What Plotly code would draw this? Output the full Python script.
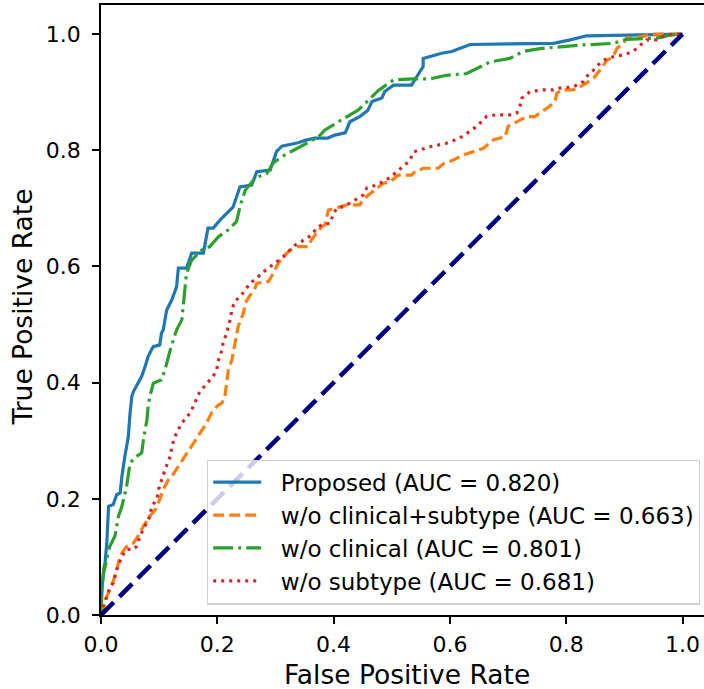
import plotly.graph_objects as go

# ROC curve points (false positive rate, true positive rate) for each model
proposed_fpr = [0.0, 0.002, 0.005, 0.007, 0.010, 0.013, 0.021, 0.027, 0.033, 0.036, 0.041, 0.047,
                0.050, 0.053, 0.056, 0.064, 0.070, 0.076, 0.081, 0.087, 0.090, 0.101, 0.104, 0.107,
                0.110, 0.113, 0.122, 0.130, 0.133, 0.147, 0.156, 0.176, 0.184, 0.193, 0.205, 0.227,
                0.239, 0.259, 0.268, 0.291, 0.302, 0.311, 0.339, 0.351, 0.368, 0.390, 0.402, 0.420,
                0.428, 0.445, 0.459, 0.466, 0.483, 0.488, 0.503, 0.534, 0.554, 0.554, 0.586, 0.603,
                0.635, 0.778, 0.807, 0.835, 1.0]
proposed_tpr = [0.0, 0.050, 0.080, 0.090, 0.124, 0.187, 0.190, 0.207, 0.210, 0.239, 0.273, 0.307,
                0.348, 0.376, 0.385, 0.399, 0.411, 0.428, 0.445, 0.457, 0.462, 0.465, 0.485, 0.491,
                0.508, 0.525, 0.543, 0.565, 0.597, 0.597, 0.623, 0.623, 0.666, 0.666, 0.680, 0.702,
                0.737, 0.740, 0.763, 0.766, 0.798, 0.807, 0.813, 0.817, 0.821, 0.821, 0.826, 0.830,
                0.849, 0.858, 0.869, 0.884, 0.890, 0.901, 0.912, 0.912, 0.944, 0.958, 0.967, 0.970,
                0.982, 0.984, 0.990, 0.997, 1.0]

no_clin_sub_fpr = [0.0, 0.004, 0.010, 0.018, 0.024, 0.030, 0.036, 0.044, 0.056, 0.064, 0.073, 0.084,
                   0.093, 0.101, 0.107, 0.116, 0.122, 0.133, 0.139, 0.147, 0.156, 0.162, 0.170, 0.182,
                   0.190, 0.199, 0.208, 0.213, 0.216, 0.219, 0.225, 0.228, 0.233, 0.236, 0.245, 0.248,
                   0.253, 0.265, 0.268, 0.288, 0.296, 0.305, 0.314, 0.325, 0.337, 0.356, 0.362, 0.374,
                   0.380, 0.385, 0.388, 0.391, 0.402, 0.423, 0.445, 0.451, 0.460, 0.471, 0.485, 0.497,
                   0.511, 0.534, 0.540, 0.554, 0.580, 0.589, 0.606, 0.623, 0.640, 0.657, 0.675, 0.695,
                   0.700, 0.709, 0.721, 0.732, 0.746, 0.761, 0.772, 0.781, 0.784, 0.792, 0.812, 0.829,
                   0.838, 0.847, 0.858, 0.870, 0.881, 0.887, 0.898, 0.904, 0.933, 0.944, 1.0]
no_clin_sub_tpr = [0.0, 0.009, 0.032, 0.050, 0.067, 0.090, 0.107, 0.118, 0.124, 0.136, 0.153, 0.170,
                   0.181, 0.199, 0.216, 0.233, 0.239, 0.256, 0.267, 0.279, 0.293, 0.302, 0.313, 0.331,
                   0.348, 0.359, 0.365, 0.376, 0.399, 0.422, 0.439, 0.456, 0.479, 0.497, 0.520, 0.537,
                   0.545, 0.563, 0.571, 0.574, 0.588, 0.606, 0.617, 0.628, 0.634, 0.634, 0.646, 0.660,
                   0.669, 0.671, 0.686, 0.697, 0.700, 0.706, 0.706, 0.715, 0.723, 0.732, 0.743, 0.746,
                   0.757, 0.757, 0.763, 0.769, 0.769, 0.777, 0.783, 0.792, 0.798, 0.803, 0.818, 0.823,
                   0.841, 0.846, 0.852, 0.858, 0.858, 0.869, 0.876, 0.886, 0.898, 0.904, 0.904, 0.912,
                   0.918, 0.924, 0.938, 0.955, 0.961, 0.975, 0.984, 0.993, 0.996, 1.0, 1.0]

no_clin_fpr = [0.0, 0.001, 0.004, 0.010, 0.015, 0.024, 0.030, 0.036, 0.044, 0.050, 0.061, 0.070,
               0.073, 0.079, 0.081, 0.084, 0.090, 0.104, 0.110, 0.119, 0.124, 0.130, 0.139, 0.142,
               0.144, 0.147, 0.156, 0.173, 0.187, 0.202, 0.219, 0.233, 0.239, 0.248, 0.265, 0.285,
               0.296, 0.311, 0.322, 0.342, 0.357, 0.374, 0.385, 0.414, 0.442, 0.460, 0.477, 0.503,
               0.537, 0.566, 0.594, 0.629, 0.646, 0.669, 0.703, 0.726, 0.755, 0.824, 0.881, 0.904,
               0.956, 0.978, 1.0]
no_clin_tpr = [0.0, 0.040, 0.070, 0.100, 0.118, 0.136, 0.170, 0.187, 0.221, 0.262, 0.273, 0.279,
               0.302, 0.336, 0.359, 0.376, 0.399, 0.405, 0.422, 0.456, 0.474, 0.491, 0.508, 0.537,
               0.565, 0.588, 0.611, 0.628, 0.634, 0.651, 0.663, 0.677, 0.703, 0.731, 0.752, 0.760,
               0.778, 0.789, 0.795, 0.806, 0.815, 0.823, 0.835, 0.852, 0.869, 0.886, 0.903, 0.921,
               0.923, 0.923, 0.929, 0.932, 0.941, 0.952, 0.958, 0.970, 0.975, 0.981, 0.984, 0.991,
               0.993, 0.998, 1.0]

no_sub_fpr = [0.0, 0.001, 0.010, 0.015, 0.021, 0.027, 0.036, 0.044, 0.056, 0.061, 0.067, 0.073,
              0.084, 0.087, 0.096, 0.099, 0.104, 0.110, 0.119, 0.122, 0.127, 0.133, 0.139, 0.144,
              0.153, 0.162, 0.165, 0.173, 0.182, 0.193, 0.199, 0.202, 0.208, 0.210, 0.216, 0.222,
              0.225, 0.230, 0.239, 0.248, 0.256, 0.268, 0.276, 0.288, 0.296, 0.305, 0.314, 0.325,
              0.334, 0.345, 0.354, 0.362, 0.371, 0.380, 0.394, 0.399, 0.405, 0.417, 0.428, 0.440,
              0.451, 0.457, 0.474, 0.497, 0.514, 0.531, 0.537, 0.566, 0.594, 0.617, 0.629, 0.646,
              0.663, 0.680, 0.703, 0.715, 0.721, 0.723, 0.738, 0.761, 0.778, 0.789, 0.812, 0.829,
              0.835, 0.847, 0.858, 0.870, 0.881, 0.898, 0.915, 0.927, 0.938, 0.956, 0.967, 0.984,
              1.0]
no_sub_tpr = [0.0, 0.009, 0.032, 0.047, 0.055, 0.078, 0.101, 0.113, 0.113, 0.118, 0.136, 0.147,
              0.170, 0.187, 0.199, 0.216, 0.233, 0.250, 0.273, 0.290, 0.307, 0.319, 0.331, 0.336,
              0.348, 0.365, 0.376, 0.388, 0.399, 0.411, 0.422, 0.439, 0.456, 0.468, 0.485, 0.508,
              0.525, 0.540, 0.548, 0.559, 0.571, 0.580, 0.588, 0.597, 0.603, 0.611, 0.617, 0.628,
              0.637, 0.643, 0.649, 0.654, 0.666, 0.672, 0.674, 0.689, 0.700, 0.703, 0.709, 0.717,
              0.723, 0.735, 0.740, 0.753, 0.767, 0.782, 0.797, 0.806, 0.812, 0.821, 0.829, 0.841,
              0.858, 0.861, 0.861, 0.864, 0.878, 0.889, 0.901, 0.904, 0.904, 0.907, 0.909, 0.918,
              0.927, 0.938, 0.950, 0.958, 0.961, 0.964, 0.970, 0.981, 0.990, 0.990, 0.996, 1.0,
              1.0]

model_names = ["Proposed", "w/o clinical+subtype", "w/o clinical", "w/o subtype"]
auc_values = [0.820, 0.663, 0.801, 0.681]
colors = ["#1f77b4", "#ff7f0e", "#2ca02c", "#d62728"]
dashes = ["solid", "11px,5px", "20px,5px,3px,5px", "3px,5px"]
curves = [(proposed_fpr, proposed_tpr), (no_clin_sub_fpr, no_clin_sub_tpr),
          (no_clin_fpr, no_clin_tpr), (no_sub_fpr, no_sub_tpr)]

chance_x = [0.0, 1.0]
chance_y = [0.0, 1.0]

x_ticks = [0.0, 0.2, 0.4, 0.6, 0.8, 1.0]
y_ticks = [0.0, 0.2, 0.4, 0.6, 0.8, 1.0]

FONT = "DejaVu Sans"
W, H = 704, 689
ML, MR, MT, MB = 101, 0, 5, 74
px_per_unit = 581.5
x_max = (W - ML - MR) / px_per_unit
y_max = 1.05
NBSP = "\u00a0"

fig = go.Figure()
for (fpr, tpr), name, auc, col, dash in zip(curves, model_names, auc_values, colors, dashes):
    fig.add_trace(go.Scatter(
        x=fpr, y=tpr, mode="lines",
        name=f"{NBSP * 2}{name} (AUC = {auc:.3f})",
        line=dict(color=col, width=3.2, dash=dash),
        legendgroup=name,
    ))

fig.add_trace(go.Scatter(
    x=chance_x, y=chance_y, mode="lines", showlegend=False,
    line=dict(color="#000080", width=4.5, dash="18px,8px"),
))

axis_common = dict(
    ticks="outside", ticklen=7, tickwidth=1.5, tickcolor="black",
    showline=True, linecolor="black", linewidth=1.5,
    showgrid=False, zeroline=False,
    tickfont=dict(family=FONT, size=22, color="black"),
    tickformat=".1f",
)

fig.update_xaxes(range=[0, x_max], tickvals=x_ticks, mirror=True,
                 ticklabelstandoff=2, **axis_common)
fig.update_yaxes(range=[0, y_max], tickvals=y_ticks, mirror=False,
                 ticklabelstandoff=7, **axis_common)

fig.update_layout(
    width=W, height=H,
    margin=dict(l=ML, r=MR, t=MT, b=MB),
    paper_bgcolor="white", plot_bgcolor="white",
    font=dict(family=FONT, color="black"),
    showlegend=True,
    legend=dict(
        x=(700 - ML) / (W - ML - MR), xanchor="right",
        y=(615.5 - 605) / (H - MT - MB), yanchor="bottom",
        bgcolor="rgba(255,255,255,0.8)",
        bordercolor="#d0d0d0", borderwidth=1.2,
        font=dict(family=FONT, size=23, color="black"),
        itemwidth=48,
        traceorder="grouped", tracegroupgap=0,
    ),
    annotations=[
        dict(text="False Positive Rate", xref="x", yref="paper",
             x=0.527, y=0, yanchor="middle", yshift=-59.5, showarrow=False,
             borderpad=0,
             font=dict(family=FONT, size=26.5, color="black")),
        dict(text="True Positive Rate", xref="paper", yref="y",
             x=0, y=0.530, xanchor="center", xshift=-78.5, textangle=-90,
             showarrow=False, borderpad=0,
             font=dict(family=FONT, size=26.5, color="black")),
    ],
)

fig.write_html("out.html")
